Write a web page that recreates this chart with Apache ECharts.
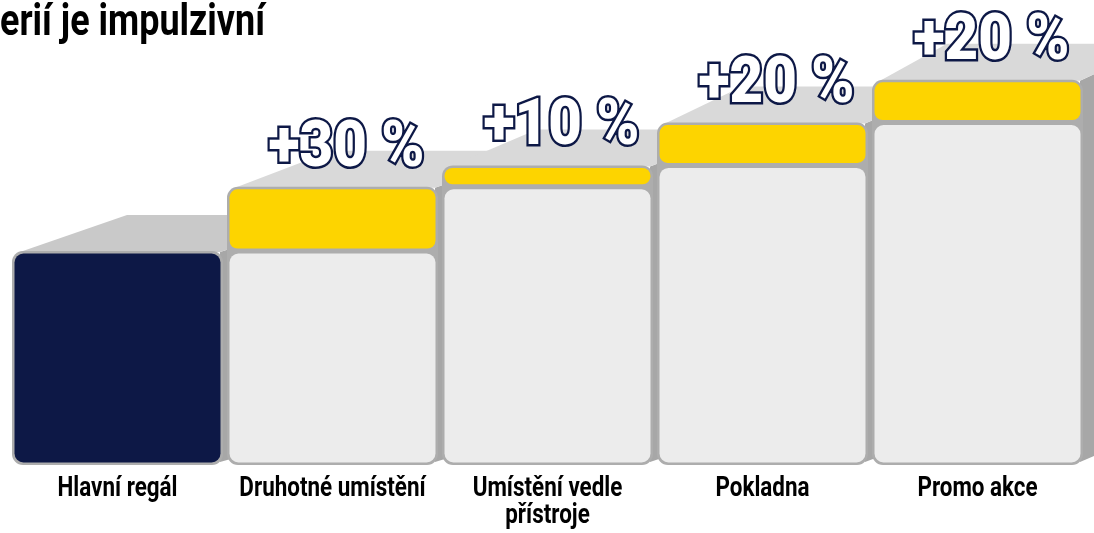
<!DOCTYPE html>
<html>
<head>
<meta charset="utf-8">
<script src="https://cdn.jsdelivr.net/npm/echarts@6/dist/echarts.min.js"></script>
<style>
html,body{margin:0;padding:0;background:#fff;}
#chart{width:1094px;height:533px;}
</style>
</head>
<body>
<div id="chart"></div>
<script>
const titleText = 'erií je impulzivní';
const categories = ['Hlavní regál', 'Druhotné umístění', 'Umístění vedle přístroje', 'Pokladna', 'Promo akce'];
const baseValues = [100, 100, 130, 140, 160];
const upliftValues = [0, 30, 10, 20, 20];
const upliftLabels = ['', '+30 %', '+10 %', '+20 %', '+20 %'];

const FONT = "Roboto, 'Noto Sans', sans-serif";
const NAVY = '#0d1846';
const YELLOW = '#fdd400';
const LIGHT = '#ececec';
const FRAME = '#adadad';

// horizontal condensing factors so the wide installed fonts match the condensed original
const mctx = document.createElement('canvas').getContext('2d');
function measure(font, txt) { mctx.font = font; return mctx.measureText(txt).width; }
const TITLE_FONT = 'bold 45px ' + FONT;
const titleScale = 265 / measure(TITLE_FONT, titleText);
const VAL_FONT = '900 64px ' + FONT;
const valScale = 156 / measure(VAL_FONT, '+30 %');
const CAT_FONT = 'bold 28px ' + FONT;
const catScale = 120 / measure(CAT_FONT, 'Hlavní regál');

function wrapLabel(txt, maxW) {
  const words = txt.split(' ');
  const lines = [];
  let cur = '';
  words.forEach(w => {
    const t = cur ? cur + ' ' + w : w;
    if (cur && measure(CAT_FONT, t) * catScale > maxW) { lines.push(cur); cur = w; }
    else cur = t;
  });
  if (cur) lines.push(cur);
  return lines.join('\n');
}

const data = categories.map((c, i) => [i, baseValues[i], upliftValues[i]]);

function renderItem(params, api) {
  const idx = api.value(0);
  const base = api.value(1);
  const up = api.value(2);
  const label = upliftLabels[idx];
  const band = api.size([1, 0])[0];
  const barW = band - 4;
  const pBottom = api.coord([idx, 0]);
  const cx = pBottom[0];
  const yBottom = pBottom[1];
  const yBase = api.coord([idx, base])[1];
  const yTop = api.coord([idx, base + up])[1];
  const left = cx - barW / 2;
  const right = cx + barW / 2;
  const dx = 115 - 10 * idx;
  const dy = 36;
  const ins = 2.5;
  const children = [];
  children.push({
    type: 'polygon',
    shape: { points: [[right - 3, yTop + 1], [right + dx, yTop - dy], [right + dx, yBottom - dy], [right - 3, yBottom - 3]] },
    style: { fill: '#a7a7a7' }
  });
  children.push({
    type: 'polygon',
    shape: { points: [[left + 8, yTop + 1], [left + dx, yTop - dy], [right + dx, yTop - dy], [right - 3, yTop + 1]] },
    style: { fill: idx === 0 ? '#c9c9c9' : '#d9d9d9' }
  });
  children.push({
    type: 'rect',
    shape: { x: left, y: yTop, width: barW, height: yBottom - yTop, r: 11 },
    style: { fill: FRAME }
  });
  children.push({
    type: 'rect',
    shape: { x: left + ins, y: yBase + ins, width: barW - 2 * ins, height: yBottom - yBase - 2 * ins, r: 9 },
    style: { fill: idx === 0 ? NAVY : LIGHT }
  });
  if (up > 0) {
    children.push({
      type: 'rect',
      shape: { x: left + ins, y: yTop + ins, width: barW - 2 * ins, height: yBase - yTop - 2 * ins, r: 8 },
      style: { fill: YELLOW }
    });
  }
  if (label) {
    children.push({
      type: 'text',
      z2: 100,
      x: cx + 14,
      y: yTop - 37,
      scaleX: valScale,
      style: {
        text: label,
        fill: '#ffffff',
        stroke: NAVY,
        lineWidth: 5,
        strokeFirst: true,
        font: VAL_FONT,
        align: 'center',
        verticalAlign: 'middle'
      }
    });
  }
  children.push({
    type: 'text',
    z2: 100,
    x: cx,
    y: yBottom + 10,
    scaleX: catScale,
    style: {
      text: wrapLabel(categories[idx], 205),
      fill: '#000000',
      font: CAT_FONT,
      lineHeight: 27,
      align: 'center',
      verticalAlign: 'top'
    }
  });
  return { type: 'group', children: children };
}

const chart = echarts.init(document.getElementById('chart'));
chart.setOption({
  animation: false,
  backgroundColor: '#ffffff',
  grid: { left: 10, right: 9, top: 37, bottom: 68, containLabel: false, outerBoundsMode: 'none' },
  xAxis: {
    type: 'category',
    data: categories,
    axisLine: { show: false },
    axisTick: { show: false },
    axisLabel: { show: false }
  },
  yAxis: { type: 'value', min: 0, max: 200, show: false },
  graphic: [{
    type: 'text',
    x: 0,
    y: 1,
    scaleX: titleScale,
    style: { text: titleText, fill: '#000', font: TITLE_FONT, verticalAlign: 'top' }
  }],
  series: [{
    type: 'custom',
    renderItem: renderItem,
    clip: false,
    data: data
  }]
});
</script>
</body>
</html>
